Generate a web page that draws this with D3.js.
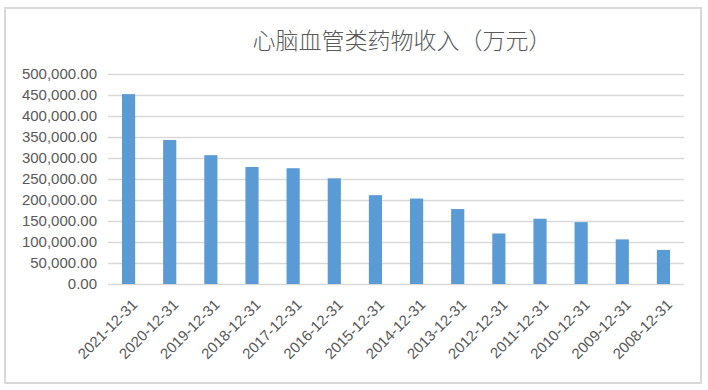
<!DOCTYPE html>
<html><head><meta charset="utf-8">
<script src="https://cdn.jsdelivr.net/npm/d3@7"></script>
<style>body{margin:0;background:#fff}svg{display:block}</style>
</head><body>
<script>
const categories = ["2021-12-31","2020-12-31","2019-12-31","2018-12-31","2017-12-31","2016-12-31","2015-12-31","2014-12-31","2013-12-31","2012-12-31","2011-12-31","2010-12-31","2009-12-31","2008-12-31"];
const values = [451000, 342000, 306000, 278000, 275000, 251000, 211000, 203000, 178000, 120000, 155000, 147000, 106000, 81000];
const yTicks = [0,50000,100000,150000,200000,250000,300000,350000,400000,450000,500000];
const title = "心脑血管类药物收入（万元）";

const W = 708, H = 390;
const svg = d3.select("body").append("svg").attr("width", W).attr("height", H);
svg.append("rect").attr("width", W).attr("height", H).attr("fill", "#fff");
svg.append("rect").attr("x", 5).attr("y", 8).attr("width", 696).attr("height", 375)
  .attr("fill", "#fff").attr("stroke", "#d9d9d9").attr("stroke-width", 2);

const x = d3.scaleBand().domain(categories).range([108, 684]).paddingInner(0.68).paddingOuter(0.34);
const y = d3.scaleLinear().domain([0, 500000]).range([284, 73.5]);

const fmt = d3.format(",.2f");
const font = "'Liberation Sans', Arial, Helvetica, sans-serif";

// gridlines
svg.append("g").selectAll("line").data(yTicks).join("line")
  .attr("x1", 108).attr("x2", 684)
  .attr("y1", d => Math.round(y(d)) + 0.5).attr("y2", d => Math.round(y(d)) + 0.5)
  .attr("stroke", "#d9d9d9").attr("stroke-width", 1.3);

// y axis labels
const yAxis = svg.append("g").attr("transform", "translate(108,0)")
  .call(d3.axisLeft(y).tickValues(yTicks).tickFormat(fmt).tickSize(0).tickPadding(11));
yAxis.select(".domain").remove();
yAxis.selectAll("text").attr("font-family", font).attr("font-size", 15).attr("fill", "#595959");

// bars
svg.append("g").selectAll("rect").data(values).join("rect")
  .attr("x", (d, i) => x(categories[i]))
  .attr("width", x.bandwidth())
  .attr("y", d => y(d))
  .attr("height", d => y(0) - y(d))
  .attr("fill", "#5b9bd5");

// x axis labels
const xAxis = svg.append("g").attr("transform", "translate(0,284)")
  .call(d3.axisBottom(x).tickSize(0).tickPadding(0));
xAxis.select(".domain").remove();
xAxis.selectAll("text")
  .attr("font-family", font).attr("font-size", 15).attr("fill", "#595959")
  .attr("text-anchor", "end").attr("dy", "0.35em")
  .attr("transform", "translate(6,18) rotate(-45)");

// title
svg.append("text").attr("x", 402).attr("y", 49).attr("text-anchor", "middle")
  .attr("font-family", "'Noto Sans CJK SC', sans-serif").attr("font-weight", 300)
  .attr("font-size", 23).attr("fill", "#595959").text(title);
</script>
</body></html>
